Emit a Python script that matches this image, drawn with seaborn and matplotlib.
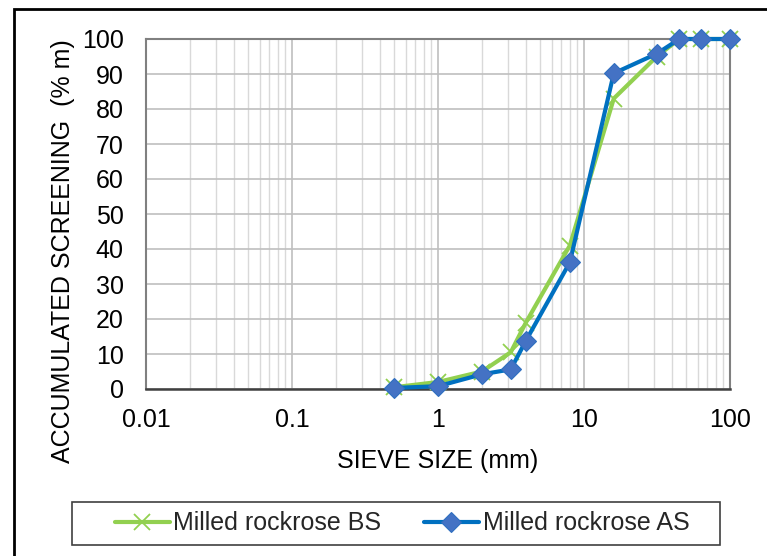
import matplotlib
matplotlib.use("Agg")
import matplotlib.pyplot as plt
import seaborn as sns
import pandas as pd
from matplotlib.patches import Rectangle
from matplotlib.ticker import LogLocator, FixedLocator, FixedFormatter

sieve_mm = [0.5, 1, 2, 3.15, 4, 8, 16, 31.5, 45, 63, 100]
bs_values = [0.5, 2.0, 5.0, 10.5, 19.0, 41.0, 83.0, 95.0, 100, 100, 100]
as_values = [0.3, 0.8, 4.2, 5.6, 13.8, 36.2, 90.2, 95.8, 100, 100, 100]
series_names = ["Milled rockrose BS", "Milled rockrose AS"]
x_ticks = [0.01, 0.1, 1, 10, 100]
x_tick_labels = ["0.01", "0.1", "1", "10", "100"]
y_ticks = list(range(0, 101, 10))

sns.set_theme(style="white")
plt.rcParams['font.family'] = ['Liberation Sans', 'DejaVu Sans']
FS = 18

fig = plt.figure(figsize=(7.67, 5.56), dpi=100)
ax = fig.add_axes([146/767, 1-389/556, (730-146)/767, (389-39)/556])

df_bs = pd.DataFrame({"x": sieve_mm, "y": bs_values})
df_as = pd.DataFrame({"x": sieve_mm, "y": as_values})

sns.lineplot(data=df_bs, x="x", y="y", ax=ax, color="#92D050", lw=3,
             marker="x", markersize=12, markeredgewidth=1.3,
             markeredgecolor="#92D050", label=series_names[0], zorder=3,
             clip_on=False)
sns.lineplot(data=df_as, x="x", y="y", ax=ax, color="#0070C0", lw=3,
             marker="D", markersize=10, markerfacecolor="#4472C4",
             markeredgecolor="#2F6FC0", markeredgewidth=0.8,
             label=series_names[1], zorder=4, clip_on=False)

ax.set_xscale("log")
ax.set_xlim(0.01, 100)
ax.set_ylim(0, 100)
ax.xaxis.set_major_locator(FixedLocator(x_ticks))
ax.xaxis.set_major_formatter(FixedFormatter(x_tick_labels))
ax.xaxis.set_minor_locator(LogLocator(base=10, subs=range(2, 10)))
ax.set_yticks(y_ticks)
ax.tick_params(axis="both", which="both", length=0, labelsize=FS, colors="black")
ax.tick_params(axis="x", pad=14)
ax.tick_params(axis="y", pad=16)

ax.grid(True, which="major", axis="both", color="#BFBFBF", lw=1.2, zorder=0)
ax.grid(True, which="minor", axis="x", color="#D9D9D9", lw=1.0, zorder=0)
ax.set_axisbelow(True)

for s in ["top", "right", "left"]:
    ax.spines[s].set_color("#808080")
    ax.spines[s].set_linewidth(1.5)
ax.spines["bottom"].set_color("#404040")
ax.spines["bottom"].set_linewidth(1.8)

ax.set_xlabel("SIEVE SIZE (mm)", fontsize=FS, labelpad=12, color="black")
ax.set_ylabel("ACCUMULATED SCREENING  (% m)", fontsize=FS, color="black")
ax.yaxis.set_label_coords((75 - 146) / 584, (389 - 251) / 350)

ax.get_legend().remove()
handles, labels = ax.get_legend_handles_labels()
leg = fig.legend(handles, labels, loc="center", ncol=2,
                 bbox_to_anchor=(402/767, 1-523.5/556),
                 fontsize=FS, frameon=False, handlelength=2.2,
                 handletextpad=0.15, columnspacing=1.7)

fig.patches.append(Rectangle((72/767, 1-545/556), (720-72)/767, 43/556,
                             transform=fig.transFigure, fill=False,
                             edgecolor="#404040", lw=1.2))
fig.patches.append(Rectangle((14/767, -0.05), 1.0, 1-9/556+0.05,
                             transform=fig.transFigure, fill=False,
                             edgecolor="black", lw=2.0))

fig.savefig("out.png", dpi=100)
